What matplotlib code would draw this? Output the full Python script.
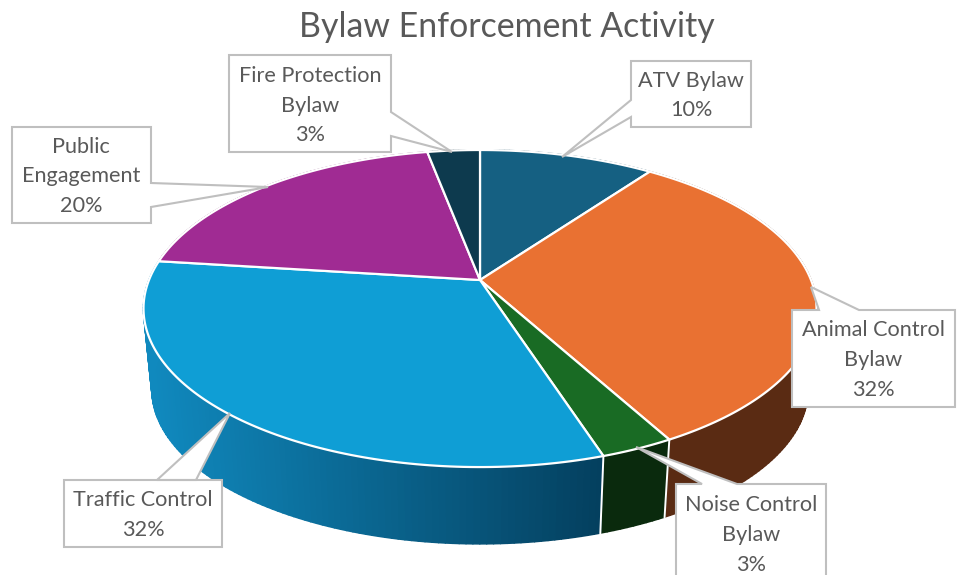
import numpy as np
import matplotlib
matplotlib.use("Agg")
import matplotlib.pyplot as plt
from matplotlib.patches import Polygon
from matplotlib.colors import to_rgb

# Enforcement shares, clockwise from twelve o'clock
categories = ["ATV Bylaw", "Animal Control\nBylaw", "Noise Control\nBylaw",
              "Traffic Control", "Public\nEngagement", "Fire Protection\nBylaw"]
values = [10, 32, 3, 32, 20, 3]
top_colors = ["#156082", "#E97132", "#196B24", "#0F9ED5", "#A02B93", "#0D3A4E"]
side_colors = [("#0E4057", "#0E4057"), ("#5A2B13", "#5A2B13"), ("#0A2A0D", "#0A2A0D"),
               ("#1089BE", "#04405F"), ("#6B1C62", "#6B1C62"), ("#082634", "#082634")]

# Callout outlines: box (x0, y0, x1, y1), pointer (base, tip, base), text centre
boxes = [(631, 61, 751, 127), (792, 310, 955, 407), (676, 484, 826, 600),
         (64, 480, 222, 547), (12, 127, 151, 223), (229, 55, 391, 152)]
pointers = [[(631, 100), (562, 157), (631, 117)],
            [(859, 310), (811, 287), (819, 310)],
            [(737, 484), (636, 447), (702, 484)],
            [(157, 480), (230, 413), (196, 480)],
            [(151, 183), (268, 187), (151, 207)],
            [(391, 112), (452, 152), (391, 136)]]
label_centres = [(691, 95.5), (873, 360), (751, 535), (143, 515), (81, 176.5), (310, 105.5)]

# Perspective model of the pie disc, in figure pixels
CX, CY, SCALE_X, SCALE_Y, TILT = 480.0, 280.0, 331.0, 153.4, 0.18
BASE_SHRINK, VANISH_Y = 0.975, 3536.0

TEXT = "#595959"
EDGE = "#BFBFBF"
FONT = "Lato"


def top_rim(theta):
    x, y = np.sin(theta), np.cos(theta)
    w = 1 + TILT * y
    return CX + SCALE_X * x / w, CY - SCALE_Y * y / w


def base_rim(theta):
    px, py = top_rim(theta)
    return CX + BASE_SHRINK * (px - CX), VANISH_Y + BASE_SHRINK * (py - VANISH_Y)


fig = plt.figure(figsize=(9.6, 5.75), dpi=100)
ax = fig.add_axes([0, 0, 1, 1])
ax.set_xlim(0, 960)
ax.set_ylim(575, 0)
ax.axis("off")

edges = np.concatenate([[0], np.cumsum(values)]) / np.sum(values) * 2 * np.pi
spans = list(zip(edges[:-1], edges[1:]))

# Side wall, drawn as overlapping strips so a slice can carry a horizontal gradient
xmin, xmax = 150.0, 600.0
for (start, end), (c0, c1) in zip(spans, side_colors):
    n = max(int(np.degrees(end - start)), 2)
    t = np.linspace(start, end, n + 1)
    for a, b in zip(t[:-1], t[1:]):
        ax_, ay_ = top_rim(a)
        bx_, by_ = top_rim(b)
        cx_, cy_ = base_rim(b)
        dx_, dy_ = base_rim(a)
        f = np.clip(((ax_ + bx_) / 2 - xmin) / (xmax - xmin), 0, 1)
        col = tuple((1 - f) * np.array(to_rgb(c0)) + f * np.array(to_rgb(c1)))
        ax.add_patch(Polygon([(ax_, ay_), (bx_, by_), (cx_, cy_), (dx_, dy_)],
                             closed=True, facecolor=col, edgecolor=col, lw=1.2,
                             joinstyle="round", zorder=2))

# White seams on the front of the wall
for edge in edges[:-1]:
    if np.cos(edge) < 0:
        p0, p1 = top_rim(edge), base_rim(edge)
        ax.plot([p0[0], p1[0]], [p0[1], p1[1]], color="white", lw=1.4, zorder=3)

# Top surface
for (start, end), col in zip(spans, top_colors):
    t = np.linspace(start, end, 120)
    xs, ys = top_rim(t)
    pts = [(CX, CY)] + list(zip(xs, ys))
    ax.add_patch(Polygon(pts, closed=True, facecolor=col, edgecolor="white",
                         lw=1.6, joinstyle="round", zorder=4))

# Percentage callouts
total = sum(values)
for name, v, box, ptr, centre in zip(categories, values, boxes, pointers, label_centres):
    x0, y0, x1, y1 = box
    # Walk the rectangle and splice the pointer into the side that carries it
    if ptr[0][1] == y0:
        outline = [(x0, y0), ptr[2], ptr[1], ptr[0], (x1, y0), (x1, y1), (x0, y1)]
    elif ptr[0][0] == x1:
        outline = [(x0, y0), (x1, y0), ptr[0], ptr[1], ptr[2], (x1, y1), (x0, y1)]
    else:
        outline = [(x0, y0), (x1, y0), (x1, y1), (x0, y1), ptr[2], ptr[1], ptr[0]]
    ax.add_patch(Polygon(outline, closed=True, facecolor="white", edgecolor=EDGE,
                         lw=1.5, joinstyle="miter", zorder=5, clip_on=True))
    ax.text(centre[0], centre[1], f"{name}\n{round(100 * v / total)}%", ha="center",
            va="center", ma="center", family=FONT, fontsize=15.6, color=TEXT,
            linespacing=1.6, zorder=6)

ax.text(507, 27, "Bylaw Enforcement Activity", ha="center", va="center",
        family=FONT, fontsize=24.4, color=TEXT, zorder=6)

fig.savefig("out.png", dpi=100, facecolor="white")
